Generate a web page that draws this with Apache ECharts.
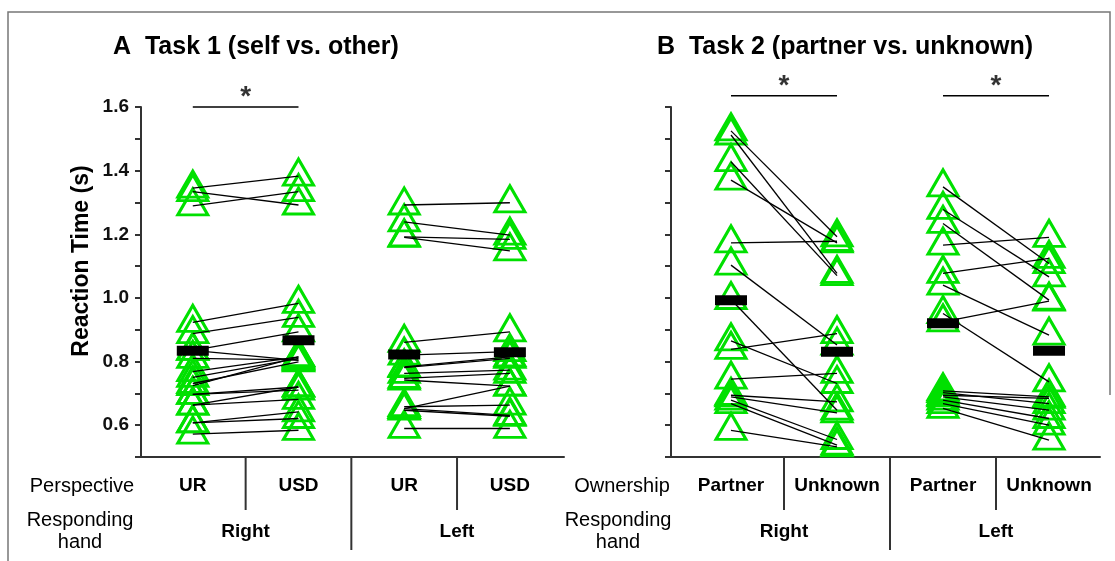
<!DOCTYPE html>
<html>
<head>
<meta charset="utf-8">
<script src="https://cdn.jsdelivr.net/npm/echarts@6/dist/echarts.min.js"></script>
<style>
  html, body { margin: 0; padding: 0; background: #fff; }
  #chart { width: 1115px; height: 561px; }
</style>
</head>
<body>
<div id="chart"></div>
<script>
// Task 1 (self vs. other), one value per subject, paired by index
const task1RightUR  = [1.345, 1.334, 1.289, 0.923, 0.888, 0.835, 0.835, 0.810, 0.768, 0.750, 0.731, 0.724, 0.697, 0.697, 0.663, 0.663, 0.607, 0.607, 0.572];
const task1RightUSD = [1.383, 1.292, 1.334, 0.983, 0.939, 0.893, 0.804, 0.805, 0.815, 0.810, 0.799, 0.815, 0.720, 0.710, 0.681, 0.720, 0.642, 0.621, 0.584];
const task1LeftUR   = [1.292, 1.239, 1.192, 1.190, 0.860, 0.820, 0.783, 0.781, 0.763, 0.747, 0.742, 0.652, 0.658, 0.652, 0.647, 0.590];
const task1LeftUSD  = [1.299, 1.197, 1.184, 1.148, 0.893, 0.831, 0.815, 0.810, 0.773, 0.763, 0.723, 0.723, 0.663, 0.631, 0.628, 0.590];

// Task 2 (partner vs. unknown)
const task2RightPartner = [1.525, 1.512, 1.428, 1.370, 1.173, 1.103, 0.995, 0.838, 0.865, 0.745, 0.694, 0.689, 0.679, 0.668, 0.584];
const task2RightUnknown = [1.192, 1.077, 1.070, 1.173, 1.178, 0.852, 0.647, 0.888, 0.731, 0.763, 0.673, 0.639, 0.555, 0.537, 0.532];
const task2LeftPartner  = [1.349, 1.278, 1.234, 1.166, 1.077, 1.040, 0.951, 0.925, 0.708, 0.702, 0.694, 0.689, 0.679, 0.668, 0.653];
const task2LeftUnknown  = [1.108, 1.066, 0.993, 1.190, 1.124, 0.883, 0.736, 0.990, 0.689, 0.668, 0.684, 0.647, 0.621, 0.600, 0.553];

// group means (black bars)
const task1Means = [0.834, 0.867, 0.822, 0.829];
const task2Means = [0.993, 0.831, 0.920, 0.834];

// labels
const task1Labels = ['UR', 'USD', 'UR', 'USD'];
const task2Labels = ['Partner', 'Unknown', 'Partner', 'Unknown'];
const handLabels = ['Right', 'Left'];

// significance brackets: [from column, to column]
const task1Sig = [[0, 1]];
const task2Sig = [[0, 1], [2, 3]];

const GREEN = '#00e000';
const FONT = '"Liberation Sans", Arial, sans-serif';

var chart = echarts.init(document.getElementById('chart'));

function panelSeries(gi, columns, means, sigPairs, sigY) {
    let tri = [];
    columns.forEach((col, ci) => col.forEach(v => tri.push([ci, v])));
    let links = [];
    for (let c = 0; c < columns.length; c += 2) {
        columns[c].forEach((v, i) => {
            links.push({ coords: [[c, v], [c + 1, columns[c + 1][i]]] });
        });
    }
    let out = [
        {
            type: 'scatter',
            xAxisIndex: gi, yAxisIndex: gi,
            symbol: 'triangle',
            symbolSize: [30, 26],
            symbolOffset: [0, -4],
            itemStyle: { color: 'rgba(0,0,0,0)', borderColor: GREEN, borderWidth: 3, opacity: 1 },
            silent: true,
            z: 2,
            data: tri
        },
        {
            type: 'lines',
            coordinateSystem: 'cartesian2d',
            xAxisIndex: gi, yAxisIndex: gi,
            lineStyle: { color: '#000', width: 1.3, opacity: 1 },
            silent: true,
            z: 3,
            data: links
        },
        {
            type: 'scatter',
            xAxisIndex: gi, yAxisIndex: gi,
            symbol: 'rect',
            symbolSize: [32, 10],
            itemStyle: { color: '#000', opacity: 1 },
            silent: true,
            z: 4,
            data: means.map((m, i) => [i, m])
        }
    ];
    sigPairs.forEach(p => {
        out.push({
            type: 'line',
            xAxisIndex: gi, yAxisIndex: gi,
            symbol: 'none',
            clip: false,
            lineStyle: { color: '#000', width: 1.5 },
            silent: true,
            data: [[p[0], sigY], [p[1], sigY]]
        });
        out.push({
            type: 'scatter',
            xAxisIndex: gi, yAxisIndex: gi,
            symbolSize: 1,
            clip: false,
            itemStyle: { color: 'rgba(0,0,0,0)' },
            label: {
                show: true, position: 'inside', offset: [0, -10],
                formatter: '*', fontSize: 28, fontWeight: 'bold',
                fontFamily: FONT, color: '#000'
            },
            silent: true,
            data: [[(p[0] + p[1]) / 2, sigY]]
        });
    });
    return out;
}

function yAxisFor(gi, showLabels) {
    return {
        type: 'value', gridIndex: gi,
        min: 0.5, max: 1.6, interval: 0.1,
        axisLine: { show: true, onZero: false, lineStyle: { color: '#333', width: 2 } },
        axisTick: { show: true, length: 6, lineStyle: { color: '#333', width: 2 } },
        axisLabel: {
            show: showLabels, margin: 12,
            fontSize: 19, fontWeight: 'bold', fontFamily: FONT, color: '#111',
            formatter: v => (Math.round(v * 10) % 2 === 0 && v > 0.55) ? v.toFixed(1) : ''
        },
        splitLine: { show: false }
    };
}

function xAxisFor(gi, min, max) {
    return {
        type: 'value', gridIndex: gi, min: min, max: max,
        axisLine: { show: true, onZero: false, lineStyle: { color: '#333', width: 2 } },
        axisTick: { show: false },
        axisLabel: { show: false },
        splitLine: { show: false }
    };
}

let option = {
    animation: false,
    backgroundColor: '#fff',
    grid: [
        { left: 141, top: 107, width: 423, height: 350 },
        { left: 671, top: 107, width: 429, height: 350 }
    ],
    xAxis: [xAxisFor(0, -0.49, 3.512), xAxisFor(1, -0.566, 3.481)],
    yAxis: [yAxisFor(0, true), yAxisFor(1, false)],
    series: [].concat(
        panelSeries(0, [task1RightUR, task1RightUSD, task1LeftUR, task1LeftUSD], task1Means, task1Sig, 1.6),
        panelSeries(1, [task2RightPartner, task2RightUnknown, task2LeftPartner, task2LeftUnknown], task2Means, task2Sig, 1.635)
    )
};
chart.setOption(option);

// text and dividers under the axes, placed from the axis scale
function txt(x, y, text, size, bold, align, rot) {
    return {
        type: 'text', x: x, y: y, rotation: rot || 0, silent: true,
        style: {
            text: text, fill: '#000',
            font: (bold ? 'bold ' : '') + size + 'px ' + FONT,
            align: align || 'center', verticalAlign: 'middle',
            textAlign: align || 'center', textVerticalAlign: 'middle',
            lineHeight: 22
        }
    };
}
function seg(x1, y1, x2, y2, color, w) {
    return {
        type: 'line', silent: true,
        shape: { x1: x1, y1: y1, x2: x2, y2: y2 },
        style: { stroke: color || '#333', lineWidth: w || 2 }
    };
}

let g = [];
// outer frame
g.push({ type: 'polyline', silent: true, shape: { points: [[8, 561], [8, 12], [1110, 12], [1110, 395]] }, style: { stroke: '#777', lineWidth: 1.5, fill: null } });
g.push(txt(113, 47, 'A  Task 1 (self vs. other)', 25, true, 'left'));
g.push(txt(657, 47, 'B  Task 2 (partner vs. unknown)', 25, true, 'left'));
g.push(txt(82, 261, 'Reaction Time (s)', 23, true, 'center', Math.PI / 2));

[[0, task1Labels, 'Perspective', 82, 80], [1, task2Labels, 'Ownership', 622, 618]].forEach(p => {
    let gi = p[0];
    let base = chart.convertToPixel({ gridIndex: gi }, [0, 0.5])[1];
    p[1].forEach((lab, i) => {
        let x = chart.convertToPixel({ gridIndex: gi }, [i, 0.5])[0];
        g.push(txt(x, 486, lab, 19, true));
    });
    [0.5, 2.5].forEach(c => {
        let x = chart.convertToPixel({ gridIndex: gi }, [c, 0.5])[0];
        g.push(seg(x, base, x, 510));
    });
    let xm = chart.convertToPixel({ gridIndex: gi }, [1.5, 0.5])[0];
    g.push(seg(xm, base, xm, 550));
    handLabels.forEach((h, k) => {
        let x = chart.convertToPixel({ gridIndex: gi }, [2 * k + 0.5, 0.5])[0];
        g.push(txt(x, 532, h, 19, true));
    });
    g.push(txt(p[3], 486, p[2], 20, false));
    g.push(txt(p[4], 531, 'Responding\nhand', 20, false));
});
chart.setOption({ graphic: g });
</script>
</body>
</html>
